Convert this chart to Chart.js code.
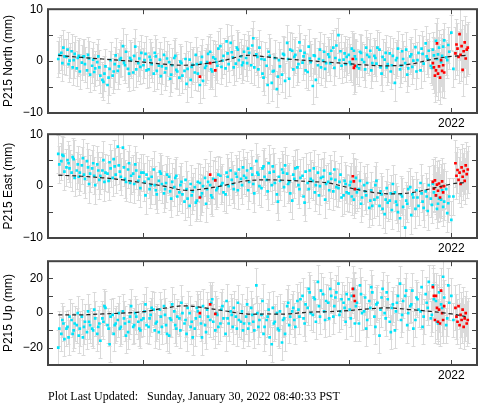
<!DOCTYPE html>
<html>
<head>
<meta charset="utf-8">
<script src="https://cdn.jsdelivr.net/npm/chart.js@4.4.1/dist/chart.umd.min.js"></script>
<style>
  body { margin: 0; background: #fff; }
  #page { position: relative; width: 481px; height: 404px; overflow: hidden; }
  canvas { position: absolute; left: 0; }
  #updated { position: absolute; left: 48px; top: 389px; font: 12px "Liberation Serif", serif; white-space: pre; color: #000; }
</style>
</head>
<body>
<div id="page">
  <canvas id="northChart" width="481" height="131" style="top:-3px"></canvas>
  <canvas id="eastChart" width="481" height="131" style="top:122px"></canvas>
  <canvas id="upChart" width="481" height="131" style="top:249px"></canvas>
  <div id="updated">Plot Last Updated:   Sunday, January 30, 2022 08:40:33 PST</div>
</div>
<script>
// sample epochs (decimal year) of the cyan solutions, two interleaved runs
const epochs = [
  2018.17, 2018.20, 2018.22, 2018.25, 2018.27, 2018.30, 2018.32, 2018.35, 2018.37, 2018.40,
  2018.42, 2018.45, 2018.47, 2018.50, 2018.52, 2018.55, 2018.57, 2018.60, 2018.62, 2018.65,
  2018.67, 2018.70, 2018.72, 2018.75, 2018.77, 2018.80, 2018.82, 2018.85, 2018.87, 2018.90,
  2018.92, 2018.95, 2018.97,
  2019.00, 2019.02, 2019.05, 2019.07, 2019.10, 2019.12, 2019.15, 2019.17, 2019.20, 2019.22,
  2019.25, 2019.27, 2019.30, 2019.32, 2019.35, 2019.37, 2019.40, 2019.42, 2019.45, 2019.47,
  2019.50, 2019.52, 2019.55, 2019.57, 2019.60, 2019.62, 2019.65, 2019.67, 2019.70, 2019.72,
  2019.75, 2019.77, 2019.80, 2019.82, 2019.85, 2019.87, 2019.90, 2019.92, 2019.95, 2019.97,
  2020.00, 2020.02, 2020.05, 2020.07, 2020.10, 2020.12, 2020.15, 2020.17, 2020.20, 2020.22,
  2020.25, 2020.27, 2020.30, 2020.32, 2020.35, 2020.37, 2020.40, 2020.42, 2020.45, 2020.47,
  2020.50, 2020.52, 2020.55, 2020.57, 2020.60, 2020.62, 2020.65, 2020.67, 2020.70, 2020.72,
  2020.75, 2020.77, 2020.80, 2020.82, 2020.85, 2020.87, 2020.90, 2020.92, 2020.95, 2020.97,
  2021.00, 2021.02, 2021.05, 2021.07, 2021.10, 2021.12, 2021.15, 2021.17, 2021.20, 2021.22,
  2021.25, 2021.27, 2021.30, 2021.32, 2021.35, 2021.37, 2021.40, 2021.42, 2021.45, 2021.47,
  2021.50, 2021.52, 2021.55, 2021.57, 2021.60, 2021.62, 2021.65, 2021.67, 2021.70, 2021.72,
  2021.75, 2021.77, 2021.80, 2021.82, 2021.85, 2021.87, 2021.90, 2021.92, 2021.95, 2021.97,
  2022.00, 2022.02
];
const epochsB = [
  2018.18, 2018.21, 2018.23, 2018.26, 2018.28, 2018.31, 2018.33, 2018.36, 2018.38, 2018.41,
  2018.43, 2018.46, 2018.48, 2018.51, 2018.53, 2018.56, 2018.58, 2018.61, 2018.63, 2018.66,
  2018.68, 2018.71, 2018.73, 2018.76, 2018.78, 2018.81, 2018.83, 2018.86, 2018.88, 2018.91,
  2018.93, 2018.96, 2018.98,
  2019.01, 2019.03, 2019.06, 2019.08, 2019.11, 2019.13, 2019.16, 2019.18, 2019.21, 2019.23,
  2019.26, 2019.28, 2019.31, 2019.33, 2019.36, 2019.38, 2019.41, 2019.43, 2019.46, 2019.48,
  2019.51, 2019.53, 2019.56, 2019.58, 2019.61, 2019.63, 2019.66, 2019.68, 2019.71, 2019.73,
  2019.76, 2019.78, 2019.81, 2019.83, 2019.86, 2019.88, 2019.91, 2019.93, 2019.96, 2019.98,
  2020.01, 2020.03, 2020.06, 2020.08, 2020.11, 2020.13, 2020.16, 2020.18, 2020.21, 2020.23,
  2020.26, 2020.28, 2020.31, 2020.33, 2020.36, 2020.38, 2020.41, 2020.43, 2020.46, 2020.48,
  2020.51, 2020.53, 2020.56, 2020.58, 2020.61, 2020.63, 2020.66, 2020.68, 2020.71, 2020.73,
  2020.76, 2020.78, 2020.81, 2020.83, 2020.86, 2020.88, 2020.91, 2020.93, 2020.96, 2020.98,
  2021.01, 2021.03, 2021.06, 2021.08, 2021.11, 2021.13, 2021.16, 2021.18, 2021.21, 2021.23,
  2021.26, 2021.28, 2021.31, 2021.33, 2021.36, 2021.38, 2021.41, 2021.43, 2021.46, 2021.48,
  2021.51, 2021.53, 2021.56, 2021.58, 2021.61, 2021.63, 2021.66, 2021.68, 2021.71, 2021.73,
  2021.76, 2021.78, 2021.81, 2021.83, 2021.86, 2021.88, 2021.91, 2021.93, 2021.96, 2021.98
];

const northValues = [
  0.4, 1.6, 2.6, 0.8, -0.6, 1.9, 0.2, -1.4, 1.0, -0.3, 0.9, -1.8, 0.5, -0.9, -2.1, -0.2, -1.2, -3.6, -2.4, -4.6,
  -1.5, -2.8, -0.6, -1.9, 0.3, 2.9, -0.8, -1.5, 0.6, -2.2, 2.8, -0.4, -1.1,
  -0.8, 1.4, -1.6, 0.2, -2.4, 0.9, -0.9, -2.9, 1.2, -1.4, -0.2, -2.6, 0.6, -1.7, -3.2, -0.4, -1.9, -4.4, 0.3, -1.1,
  -2.2, -0.6, -4.6, 0.8, -1.3, -0.2, 1.8, -2.0, 0.4, -0.9, 2.9, 0.1, -1.4, 1.5, 3.5, 0.7, -0.5, 2.2, 0.9, -0.3,
  0.6, 2.4, -0.8, 4.4, 1.3, -1.6, 0.4, -3.2, -0.9, 1.8, -4.2, -1.9, -5.4, 0.2, -2.6, 1.2, 3.5, -3.4, 2.0, 0.8,
  -1.2, 3.6, -0.3, 1.6, -2.1, 0.5, -4.8, 1.0, -0.8, 2.2, 0.1, -1.5, 1.3, -0.4, 2.6, 0.6, 5.0, 1.9, 0.3, -0.6,
  1.2, -0.6, 2.0, 0.4, -1.4, 1.6, -0.2, 2.6, 0.8, -1.8, 1.0, -0.5, 2.2, -2.4, 0.3, -1.2, 1.5, -0.8, -4.2, 0.6,
  -1.6, 1.9, -0.4, -2.6, 0.9, -1.1, 2.7, 0.2, -1.8, 1.4, 3.4, 0.4, -0.9, 2.2, 3.9, 1.3, -0.2, 2.8, 0.7, 3.1,
  5.5, -1.5
];
const northValuesB = [
  1.2, -0.4, 0.9, 2.2, 0.1, -1.2, 1.4, 0.6, -2.0, 0.8, -0.6, 1.2, -2.6, 0.3, -1.4, 0.9, -2.8, -4.0, -1.0, -3.2,
  0.2, -2.0, 1.1, -1.0, 0.6, -0.3, 1.8, -2.4, 0.2, 1.0, -1.6, 0.5, 1.6,
  0.2, -1.8, 0.8, -0.6, 1.6, -1.9, 0.3, -1.0, -2.2, 0.5, -3.4, -0.8, 1.0, -2.0, -0.1, -2.8, 0.4, -1.5, -3.6, -0.7,
  1.2, -2.4, -0.3, -3.8, -0.9, 1.4, -1.6, 0.7, -0.2, 2.4, -1.1, 1.0, 3.8, -0.6, 1.7, -1.2, 2.6, 0.2, -0.8, 1.8,
  -0.4, 1.6, 3.0, -1.2, 0.8, 2.6, -2.4, 0.3, -4.6, 1.0, -2.0, 0.6, -3.0, -1.0, 1.4, -3.8, 0.4, 2.2, -1.6, 1.2,
  -0.6, 2.0, 0.9, -1.8, 2.8, -0.2, 1.1, -3.6, 0.4, -1.2, 1.8, -0.4, 0.8, 2.0, -1.3, 3.0, 0.2, -0.9, 1.5, 0.8,
  -0.2, 2.4, 0.9, -1.0, 1.8, 0.3, -1.6, 1.2, 2.0, -0.4, 0.6, 2.6, -1.2, 0.8, 1.6, -0.6, -2.0, 1.0, 0.2, 2.4,
  -0.9, 0.4, 2.2, -1.4, 1.3, 0.1, -2.0, 1.6, 2.4, -0.5, 0.9, 2.0, -1.3, 1.1, 0.4, 2.6, 1.0, 4.0, 0.2, 1.8
];

const eastValues = [
  6.2, 4.8, 5.8, 3.6, 4.4, 2.6, 5.2, 3.0, 1.8, 4.0, 2.2, 4.8, 0.4, 3.4, 2.0, 4.2, 1.2, 3.0, 0.8, 2.4,
  4.6, 1.6, 3.8, 7.6, 2.8, 7.4, 1.4, 3.2, 0.6, 2.4, 4.2, 1.0, -0.4,
  2.6, -1.8, 1.4, 0.2, 3.2, -0.8, 1.0, 2.4, -1.4, 0.6, 1.8, -2.4, -0.2, 2.0, -1.2, 0.8, -3.0, -0.6, -3.8, -1.8,
  -0.2, -2.8, 0.6, -1.4, 1.6, -0.6, 0.2, -2.2, 1.2, -0.4, 2.0, 0.6, -1.6, 1.8, 3.0, 0.4, 2.4, -0.8, 1.4, 3.6,
  1.6, -0.8, 3.4, 0.4, 4.8, 2.2, -0.4, 3.8, 1.2, 4.4, 0.2, 2.8, -1.6, 1.8, 3.2, -0.2, 2.4, 0.8, -2.8, 1.4,
  3.6, -0.6, 2.0, -3.2, 0.6, 3.0, 1.0, -1.2, 2.6, 0.0, 1.8, -2.6, 0.8, 2.4, -1.0, 1.2, -0.4, 2.2, -1.8, 0.4,
  -1.4, 0.8, -2.6, 1.6, -0.6, -3.4, 0.2, -1.8, -4.2, -0.8, -2.6, 1.0, -3.8, -1.6, -5.4, -0.4, -2.8, -4.6, -1.2, -3.6,
  -6.2, -2.0, -8.0, -3.4, -0.2, -1.6, -4.4, -2.2, 0.6, -3.0, -1.0, -4.8, -2.4, 0.4, -1.8, -3.4, -2.6, -4.0, -0.6, -3.3,
  -6.5, -2.0
];
const eastValuesB = [
  4.2, 6.0, 2.8, 5.0, 3.4, 5.6, 1.6, 4.2, 2.6, 5.4, 1.4, 3.6, 2.4, 4.4, 0.2, 3.0, 2.0, 5.0, 2.6, 1.0,
  3.4, 5.2, 2.2, 4.0, 1.8, 3.6, 0.8, 4.4, 2.0, 0.4, 3.0, 1.8, 2.6,
  0.8, 2.2, -0.6, 1.8, 0.2, -1.6, 2.8, 0.4, -0.6, 2.2, -1.0, 0.8, 1.6, -2.0, 0.2, -1.6, 1.2, -2.4, 0.4, -1.0,
  -3.2, 0.8, -2.0, 0.0, -3.4, 0.8, -1.8, 1.4, -0.8, 2.2, 0.2, -1.2, 2.6, 0.0, 1.2, -0.6, 1.8, 3.2, 0.2, 2.0,
  3.0, 0.8, 2.2, -1.4, 2.6, 0.0, 3.4, 1.8, -1.0, 2.6, 3.8, 0.6, -3.0, 1.0, 2.6, 4.0, 0.4, -1.4, 2.2, 3.4,
  0.2, 1.6, -2.0, 2.8, -0.6, 1.4, 3.4, 0.2, -1.8, 1.6, 3.0, 0.4, -0.8, 1.4, 3.2, -0.2, 0.8, -2.2, 1.0, -1.2,
  0.2, -2.0, -0.6, -1.2, 1.0, -2.2, -1.0, 0.6, -2.8, -3.8, 0.2, -2.2, -1.0, -4.4, -2.6, -3.2, -1.4, 0.4, -3.0, -5.0,
  -1.6, -4.0, -2.8, -0.6, -5.6, -2.2, -0.8, -3.8, -1.4, -4.2, -2.0, 0.2, -3.6, -1.2, -4.4, -2.4, -0.8, -3.0, -5.2, -2.0
];

const upValues = [
  -20, -12, -6, -9, -14, -4, -10, -7, -13, -2, -8, -11, -5, -9, 2, -12, -6, -3, 4, -7,
  -18, -1, -7, -4, -9, 1, -6, -11, -2, -8, 0, -5, -10,
  -3, 5, -8, -1, 2, -6, -11, -2, 4, -7, -13, -4, 1, -9, -3, 6, -6, -12, 0, -5,
  -9, 3, -2, -14, -7, 2, -4, 8, -10, -1, -6, 4, -12, -3, 1, -8, -2, 6, -5, -10,
  -2, -9, 3, -5, 16, -8, -1, -12, -4, 2, -18, -6, 0, -10, -17, -3, 4, -7, 1, -4,
  7, -2, 10, -6, 3, 12, -1, 8, 18, -2, 11, -4, 6, 14, -2, 9, 17, 1, 6, -5,
  8, -3, 14, 4, -6, 11, 1, -9, 7, 15, -2, 5, -13, 9, 0, 12, -5, 3, -10, 6,
  17, -1, 10, -7, 4, 13, -4, 8, 1, -8, 11, 3, -3, 16, 7, -6, 5, 21, -7, 16,
  10, -4
];
const upValuesB = [
  -9, -4, -15, -8, -2, -12, -6, 0, -9, -14, -5, 1, -7, -10, -3, -8, -16, -5, 3, -9,
  -2, -12, -6, 0, -8, -3, -13, -5, 4, -7, -2, -9, -4,
  1, -7, -3, 3, -10, -5, 2, -8, -1, -12, -3, 5, -7, -2, -10, 0, -4, 3, -8, -14,
  -3, 1, -6, 4, -11, -2, 6, -5, 0, -8, 2, -3, 7, -6, -1, 3, -9, -4, 1, -6,
  5, -6, -1, -10, 0, -4, 7, -8, -2, -14, 3, -5, -9, 1, -4, -12, 6, -2, 3, -8,
  2, 8, -3, 5, 14, 0, 9, -5, 4, 13, 1, 7, -3, 10, 4, 12, -1, 8, 3, 11,
  2, 10, -6, 6, 16, 0, 9, -4, 3, 12, -8, 6, 2, 14, -3, 8, -11, 5, 1, 10,
  -4, 7, 13, 0, 5, -9, 9, 2, 15, -2, 6, 18, -1, 8, -5, 12, 3, 9, -3, 6
];

// rapid solutions plotted in red
const redEpochs = [
  2019.55, 2019.65, 2019.70, 2021.04, 2021.05, 2021.06,
  2021.82, 2021.83, 2021.84, 2021.85, 2021.86, 2021.87, 2021.88, 2021.89, 2021.90, 2021.91, 2021.92, 2021.93,
  2022.04, 2022.05, 2022.06, 2022.07, 2022.08, 2022.09, 2022.10, 2022.11, 2022.12, 2022.13, 2022.14, 2022.15, 2022.16
];
const redNorth = [
  -3.0, -0.4, -1.8, 0.4, -1.3, -0.9,
  -0.4, -1.2, -2.8, -1.8, 3.4, -2.4, -1.0, -3.2, 0.2, -1.9, -0.8, -2.2,
  1.5, 3.2, 2.4, 0.8, 5.2, 1.2, 2.9, -1.7, 1.9, 3.6, 0.5, 2.2, 2.6
];
const redEast = [
  -2.2, 2.2, 1.1, 1.9, 0.9, -0.6,
  0.8, -0.5, 1.1, -1.8, 0.3, -0.9, 0.5, -2.2, -0.2, 0.9, -1.2, 0.0,
  4.4, 2.0, 3.1, 1.2, 2.6, 0.4, 3.6, 1.8, 2.9, 1.0, 4.0, 2.3, 3.2
];
const redUp = [
  0, 5, -0.5, 14, 10, 7,
  15, 10, -4, 10, 3, -5, 2, -6, 13, 0, -4, 4,
  3, -2, -5, 4, -7, -1, -4, 2, -8, -3, 0, -6, -4
];

// model fit (dashed line)
const modelEpochs = [2018.17, 2018.4, 2018.6, 2018.8, 2019.0, 2019.2, 2019.4, 2019.6, 2019.8, 2020.0, 2020.2,
  2020.4, 2020.6, 2020.8, 2021.0, 2021.2, 2021.4, 2021.6, 2021.8, 2022.0, 2022.14];
const northModel = [1.1, 0.7, 0.4, 0.1, -0.2, -0.6, -0.8, -0.5, 0.2, 1.1, 0.8, 0.4, 0.1, -0.2, -0.5, -0.8, -0.9, -0.6, 0.3, 0.9, 1.1];
const eastModel = [2.1, 1.9, 1.6, 1.2, 0.6, 0.0, -0.8, -0.5, 0.2, 1.0, 1.2, 1.1, 0.9, 0.6, -0.3, -1.1, -1.5, -1.3, -0.5, 0.4, 0.7];
const upModel = [-1.0, -1.0, -0.5, 0.0, 0.8, 2.8, 4.2, 3.0, 1.2, -0.5, -0.5, -0.5, 0.5, 0.8, 1.5, 2.5, 3.0, 2.0, 1.0, -0.5, -2.0];

// error bar half lengths (mm)
const northSigma = 3.4, northRedSigma = 5;
const eastSigma = 3.6, eastRedSigma = 4.5;
const upSigma = 10, upRedSigma = 13;

// axis ticks
const xTickYears = [2019, 2020, 2021, 2022];
const xLabelYear = 2022;
const northTicks = [-10, -5, 0, 5, 10];
const eastTicks = [-10, -5, 0, 5, 10];
const upTicks = [-30, -20, -10, 0, 10, 20, 30];

function pts(xs, ys) {
    return xs.map((x, i) => ({ x: x, y: ys[i] }));
}

function fmt(v) {
    return v < 0 ? '\u2212' + Math.abs(v) : String(v);
}

// error bars, frame and inward ticks
const framePlugin = {
    id: 'frame',
    beforeDatasetsDraw(chart) {
        const { ctx, chartArea: a, scales: { x, y } } = chart;
        ctx.save();
        ctx.beginPath();
        ctx.rect(a.left, a.top, a.width, a.height);
        ctx.clip();
        ctx.strokeStyle = '#dadada';
        ctx.lineWidth = 1;
        chart.data.datasets.forEach(ds => {
            if (!ds.sigma) return;
            ds.data.forEach(p => {
                const px = Math.round(x.getPixelForValue(p.x)) + 0.5;
                const top = Math.round(y.getPixelForValue(p.y + ds.sigma)) + 0.5;
                const bot = Math.round(y.getPixelForValue(p.y - ds.sigma)) + 0.5;
                ctx.beginPath();
                ctx.moveTo(px, top); ctx.lineTo(px, bot);
                ctx.moveTo(px - 2, top); ctx.lineTo(px + 2, top);
                ctx.moveTo(px - 2, bot); ctx.lineTo(px + 2, bot);
                ctx.stroke();
            });
        });
        ctx.restore();
    },
    afterDraw(chart, args, opts) {
        const { ctx, chartArea: a, scales: { x, y } } = chart;
        ctx.save();
        ctx.strokeStyle = '#444';
        ctx.lineWidth = 1;
        ctx.beginPath();
        xTickYears.forEach(v => {
            const px = Math.round(x.getPixelForValue(v)) + 0.5;
            ctx.moveTo(px, a.bottom); ctx.lineTo(px, a.bottom - 5);
            ctx.moveTo(px, a.top); ctx.lineTo(px, a.top + 5);
        });
        opts.yTicks.forEach(v => {
            const py = Math.round(y.getPixelForValue(v)) + 0.5;
            ctx.moveTo(a.left, py); ctx.lineTo(a.left + 5, py);
            ctx.moveTo(a.right, py); ctx.lineTo(a.right - 5, py);
        });
        ctx.stroke();
        ctx.lineWidth = 2;
        ctx.strokeRect(a.left, a.top, a.width, a.height);
        ctx.restore();
    }
};

function cyanSet(xs, ys, sigma) {
    return {
        data: pts(xs, ys),
        sigma: sigma,
        pointStyle: 'rect',
        pointRadius: 1.9,
        backgroundColor: 'rgb(0, 228, 250)',
        borderWidth: 0,
        order: 2
    };
}

function makePanel(id, title, values, valuesB, redValues, model, sigma, redSigma, yTicks, labelEvery) {
    const yMin = yTicks[0];
    const yMax = yTicks[yTicks.length - 1];
    return new Chart(document.getElementById(id), {
        type: 'scatter',
        data: {
            datasets: [
                {
                    data: pts(modelEpochs, model),
                    showLine: true,
                    borderColor: '#222',
                    borderWidth: 1.2,
                    borderDash: [4, 3],
                    pointRadius: 0,
                    tension: 0.4,
                    order: 0
                },
                {
                    data: pts(redEpochs, redValues),
                    sigma: redSigma,
                    pointStyle: 'rect',
                    pointRadius: 1.9,
                    backgroundColor: '#ff0000',
                    borderWidth: 0,
                    order: 1
                },
                cyanSet(epochs, values, sigma),
                cyanSet(epochsB, valuesB, sigma)
            ]
        },
        options: {
            responsive: false,
            animation: false,
            devicePixelRatio: 1,
            layout: { padding: { left: 0, right: 2, top: 8, bottom: 0 } },
            plugins: {
                legend: { display: false },
                tooltip: { enabled: false },
                frame: { yTicks: yTicks }
            },
            scales: {
                x: {
                    type: 'linear',
                    min: 2018.07,
                    max: 2022.25,
                    grid: { display: false, drawTicks: false },
                    border: { display: false },
                    afterBuildTicks: s => { s.ticks = xTickYears.map(v => ({ value: v })); },
                    afterFit: s => { s.height = 15; },
                    ticks: {
                        autoSkip: false,
                        maxRotation: 0,
                        padding: 3,
                        color: '#000',
                        font: { family: 'Liberation Sans', size: 12 },
                        callback: v => v === xLabelYear ? String(xLabelYear) : ''
                    }
                },
                y: {
                    min: yMin,
                    max: yMax,
                    grid: { display: false, drawTicks: false },
                    border: { display: false },
                    afterBuildTicks: s => { s.ticks = yTicks.map(v => ({ value: v })); },
                    afterFit: s => { s.width = 48; },
                    title: {
                        display: true,
                        text: title,
                        color: '#000',
                        padding: { top: 1, bottom: 0 },
                        font: { family: 'Liberation Sans', size: 12 }
                    },
                    ticks: {
                        autoSkip: false,
                        padding: 5,
                        color: '#000',
                        font: { family: 'Liberation Sans', size: 12 },
                        callback: v => (v % labelEvery === 0 && Math.abs(v) < 30) ? fmt(v) : ''
                    }
                }
            }
        },
        plugins: [framePlugin]
    });
}

makePanel('northChart', 'P215 North (mm)', northValues, northValuesB, redNorth, northModel, northSigma, northRedSigma, northTicks, 10);
makePanel('eastChart', 'P215 East (mm)', eastValues, eastValuesB, redEast, eastModel, eastSigma, eastRedSigma, eastTicks, 10);
makePanel('upChart', 'P215 Up (mm)', upValues, upValuesB, redUp, upModel, upSigma, upRedSigma, upTicks, 20);
</script>
</body>
</html>
